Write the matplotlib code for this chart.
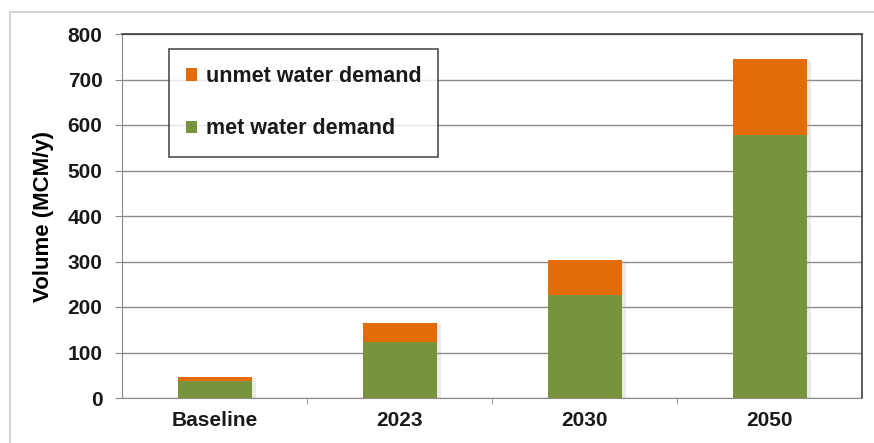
import matplotlib.pyplot as plt
import matplotlib.patheffects as pe
from matplotlib.patches import Rectangle
import numpy as np

# water demand per scenario, MCM/y
categories = ['Baseline', '2023', '2030', '2050']
met_demand = [37, 122, 227, 579]
unmet_demand = [10, 43, 77, 165]

plt.rcParams['font.family'] = ['Liberation Sans', 'DejaVu Sans']

fig = plt.figure(figsize=(8.74, 4.43), dpi=100)
# light frame around the whole chart
fig.patches.append(Rectangle((10 / 874, -0.1), 1.0, 1.1 - 12 / 443,
                             transform=fig.transFigure, fill=False,
                             edgecolor='#d4d4d4', lw=1.5))

ax = fig.add_axes([122 / 874, 45 / 443, 740 / 874, 364 / 443])
x = np.arange(len(categories))
total = np.array(met_demand) + np.array(unmet_demand)

# faint drop shadow behind each full stack
sh = ax.bar(x, total, width=0.4, color='none', edgecolor='none', zorder=2)
for p in sh:
    p.set_path_effects([pe.SimplePatchShadow(offset=(3, -1), shadow_rgbFace='#b0b0b0', alpha=0.25)])

b1 = ax.bar(x, met_demand, width=0.4, color='#77933C', label='met water demand', zorder=3)
b2 = ax.bar(x, unmet_demand, width=0.4, bottom=met_demand, color='#E36C09',
            label='unmet water demand', zorder=3)

ax.set_xlim(-0.5, 3.5)
ax.set_ylim(0, 800)
ax.set_yticks(range(0, 801, 100))
ax.yaxis.grid(True, color='#8a8a8a', lw=1, zorder=0)
ax.set_xticks(x)
ax.set_xticklabels(categories)
ax.set_xticks([0.5, 1.5, 2.5], minor=True)
ax.tick_params(axis='x', which='major', length=0, pad=9, labelsize=15)
ax.tick_params(axis='x', which='minor', length=4, color='#8a8a8a', direction='out')
ax.tick_params(axis='y', length=5, color='#8a8a8a', pad=9, labelsize=15)
for lbl in ax.get_xticklabels() + ax.get_yticklabels():
    lbl.set_fontweight('bold')
    lbl.set_color('#1a1a1a')

for s in ['left', 'bottom']:
    ax.spines[s].set_color('#8a8a8a')
for s in ['top', 'right']:
    ax.spines[s].set_color('#404040')
    ax.spines[s].set_linewidth(1.2)

ax.set_ylabel('Volume (MCM/y)', fontsize=16, fontweight='bold', labelpad=10)

leg = ax.legend(handles=[b2, b1], loc='upper left', bbox_to_anchor=(47 / 740, 1 - 15 / 364),
                frameon=True, fancybox=False, edgecolor='#222222', fontsize=15.5,
                handlelength=0.5, handleheight=0.5, handletextpad=0.4,
                labelspacing=1.45, borderpad=0.8, borderaxespad=0)
leg.get_frame().set_linewidth(1.2)
for t in leg.get_texts():
    t.set_fontweight('bold')
    t.set_color('#1a1a1a')

fig.savefig('out.png', dpi=100)
